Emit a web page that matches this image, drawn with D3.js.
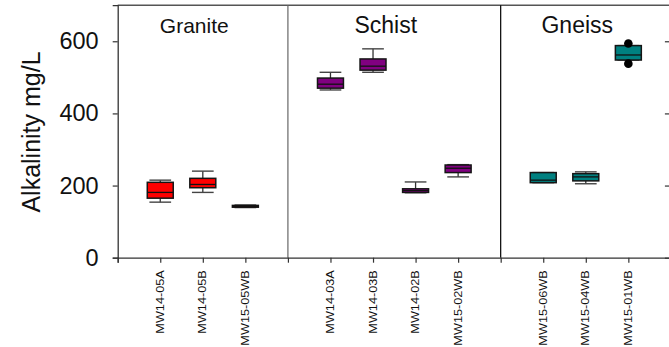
<!DOCTYPE html>
<html>
<head>
<meta charset="utf-8">
<script src="https://cdn.jsdelivr.net/npm/d3@7"></script>
<style>
  html, body { margin: 0; padding: 0; background: #fff; }
  svg { display: block; font-family: "Liberation Sans", Arial, sans-serif; }
</style>
</head>
<body>
<svg id="chart" width="669" height="347"></svg>
<script>
// Rock groups and the wells sampled in each
const groups = ["Granite", "Schist", "Gneiss"];
const wells = ["MW14-05A", "MW14-05B", "MW15-05WB",
               "MW14-03A", "MW14-03B", "MW14-02B", "MW15-02WB",
               "MW15-06WB", "MW15-04WB", "MW15-01WB"];
const wellGroup = ["Granite", "Granite", "Granite",
                   "Schist", "Schist", "Schist", "Schist",
                   "Gneiss", "Gneiss", "Gneiss"];

// Box-plot statistics, alkalinity in mg/L
const whiskerLow  = [154, 181, 139, 465, 514, 180, 224, 208, 205, 548];
const q1          = [165, 194, 140, 470, 520, 181, 236, 208, 213, 548];
const median      = [181, 203, 142.5, 481, 531, 186, 248, 215, 224, 562];
const q3          = [209, 220, 145, 498, 551, 191, 257, 236, 233, 588];
const whiskerHigh = [215, 240, 146, 514, 579, 210, 258, 236, 238, 588];
const outliers    = [[], [], [], [], [], [], [], [], [], [594, 538]];

const yTicks = [0, 200, 400, 600];
const groupColor = { Granite: "#ff0000", Schist: "#800080", Gneiss: "#008080" };

// Slot layout: one empty slot before each group, which also carries the divider
let slot = 0;
const slotOf = [];
const dividerSlots = [];
groups.forEach((g, gi) => {
  if (gi > 0) dividerSlots.push(slot);
  slot += 1;
  wells.forEach((w, i) => { if (wellGroup[i] === g) slotOf[i] = slot++; });
});
const nSlots = slot; // trailing empty slot closes the last group

const svg = d3.select("#chart");
const plotLeft = 117.7, plotRight = 670.9, plotTop = 5.2, plotBottom = 257.7;

const x = d3.scaleLinear().domain([0, nSlots]).range([plotLeft, plotRight]);
const y = d3.scaleLinear().domain([0, 700]).range([plotBottom, plotTop]);

const step = x(1) - x(0);
const boxW = step * 0.61;
const capW = step * 0.51;

// Frame: top border and divider lines between rock groups
svg.append("line")
  .attr("x1", plotLeft).attr("x2", 669).attr("y1", plotTop).attr("y2", plotTop)
  .attr("stroke", "#555").attr("stroke-width", 1.4);

svg.selectAll("line.divider").data(dividerSlots).join("line")
  .attr("class", "divider")
  .attr("x1", d => x(d)).attr("x2", d => x(d))
  .attr("y1", plotTop).attr("y2", plotBottom)
  .attr("stroke", (d, i) => i === 0 ? "#666" : "#000")
  .attr("stroke-width", 1.2);

// Left y axis
const yAxis = svg.append("g")
  .attr("transform", `translate(${plotLeft},0)`)
  .call(d3.axisLeft(y).tickValues(yTicks).tickSize(5).tickPadding(14).tickFormat(d3.format("d")));
yAxis.select(".domain").attr("stroke", "#333").attr("stroke-width", 1.3);
yAxis.selectAll(".tick line").attr("stroke", "#333").attr("stroke-width", 1.2);
yAxis.selectAll(".tick text")
  .attr("font-size", 23.5).attr("fill", "#111")
  .style("font-family", "'Liberation Sans', Arial, sans-serif");

// Right y axis (inward ticks)
const yAxisR = svg.append("g")
  .attr("transform", `translate(${plotRight},0)`)
  .call(d3.axisLeft(y).tickValues(yTicks).tickSize(0).tickFormat(""));
yAxisR.selectAll(".tick line").attr("x1", -6).attr("x2", -1).attr("stroke", "#333").attr("stroke-width", 1.2);
yAxisR.select(".domain").attr("stroke", "#333");

// Bottom x axis: a tick at every slot
const xAxis = svg.append("g")
  .attr("transform", `translate(0,${plotBottom})`)
  .call(d3.axisBottom(x).tickValues(d3.range(0, nSlots + 1)).tickSize(5).tickFormat(""));
xAxis.select(".domain").attr("stroke", "#333").attr("stroke-width", 1.3);
xAxis.selectAll(".tick line").attr("stroke", "#333").attr("stroke-width", 1.2);

// Well names, rotated and stretched along their length
svg.append("g").selectAll("text").data(wells).join("text")
  .attr("transform", (d, i) => `translate(${x(slotOf[i])},${plotBottom + 12.5}) rotate(-90) scale(1.27,1)`)
  .attr("text-anchor", "end")
  .attr("dy", "0.36em")
  .attr("font-size", 10)
  .attr("fill", "#111")
  .text(d => d);

// Y-axis title
svg.append("text")
  .attr("transform", `translate(40,132) rotate(-90)`)
  .attr("text-anchor", "middle")
  .attr("font-size", 25)
  .attr("fill", "#111")
  .text("Alkalinity mg/L");

// Group titles
const groupBounds = [0, ...dividerSlots, nSlots];
svg.selectAll("text.group").data(groups).join("text")
  .attr("class", "group")
  .attr("x", (g, i) => (x(groupBounds[i]) + x(groupBounds[i + 1])) / 2 - 8.5)
  .attr("y", 32.5)
  .attr("text-anchor", "middle")
  .attr("font-size", (g, i) => i === 0 ? 21 : 23)
  .attr("fill", "#111")
  .text(g => g);

// Boxes
const boxes = svg.append("g").selectAll("g").data(wells).join("g");

// whisker stems
boxes.append("line")
  .attr("x1", (d, i) => x(slotOf[i])).attr("x2", (d, i) => x(slotOf[i]))
  .attr("y1", (d, i) => y(whiskerHigh[i])).attr("y2", (d, i) => y(q3[i]))
  .attr("stroke", "#333").attr("stroke-width", 1.3);
boxes.append("line")
  .attr("x1", (d, i) => x(slotOf[i])).attr("x2", (d, i) => x(slotOf[i]))
  .attr("y1", (d, i) => y(q1[i])).attr("y2", (d, i) => y(whiskerLow[i]))
  .attr("stroke", "#333").attr("stroke-width", 1.3);
// whisker caps
[whiskerHigh, whiskerLow].forEach(arr => {
  boxes.append("line")
    .attr("x1", (d, i) => x(slotOf[i]) - capW / 2).attr("x2", (d, i) => x(slotOf[i]) + capW / 2)
    .attr("y1", (d, i) => y(arr[i])).attr("y2", (d, i) => y(arr[i]))
    .attr("stroke", "#444").attr("stroke-width", 1.4);
});
// interquartile box
boxes.append("rect")
  .attr("x", (d, i) => x(slotOf[i]) - boxW / 2)
  .attr("width", boxW)
  .attr("y", (d, i) => y(q3[i]))
  .attr("height", (d, i) => y(q1[i]) - y(q3[i]))
  .attr("fill", (d, i) => groupColor[wellGroup[i]])
  .attr("stroke", "#151515").attr("stroke-width", 1.5);
// median
boxes.append("line")
  .attr("x1", (d, i) => x(slotOf[i]) - boxW / 2).attr("x2", (d, i) => x(slotOf[i]) + boxW / 2)
  .attr("y1", (d, i) => y(median[i])).attr("y2", (d, i) => y(median[i]))
  .attr("stroke", "#111").attr("stroke-width", 1.3);
// outliers
boxes.selectAll("circle").data((d, i) => outliers[i].map(v => ({ v, i }))).join("circle")
  .attr("cx", o => x(slotOf[o.i]))
  .attr("cy", o => y(o.v))
  .attr("r", 4.3)
  .attr("fill", "#000");
</script>
</body>
</html>
